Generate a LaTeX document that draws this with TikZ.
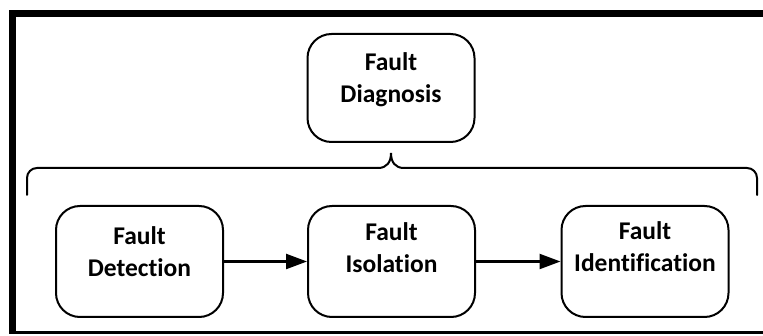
\documentclass[tikz,border=0pt]{standalone}
\usepackage{fontspec}
\setmainfont{Carlito}[Ligatures=NoCommon]
\usetikzlibrary{arrows.meta}
\tikzset{
  stage/.style={draw, line width=2pt, rounded corners=24pt, minimum width=167pt,
    minimum height=111pt, align=center, text depth=20pt,
    font=\bfseries\fontsize{25.5}{32}\selectfont},
  flow/.style={line width=2.4pt, -{Triangle[length=21pt,width=15pt]}},
  bracket/.style={line width=2pt, line cap=round}
}
\begin{document}
\begin{tikzpicture}[x=1pt,y=-1pt]
  \useasboundingbox (0,0) rectangle (763,336);
  % outer frame (cut off on the right)
  \fill (9,10) rectangle (763,17);
  \fill (9,10) rectangle (16,334);
  \fill (9,331) rectangle (763,334);
  % top box
  \node[stage, minimum height=108pt] (diag) at (391,88) {Fault\\Diagnosis};
  % the three steps
  \node[stage] (det) at (139.5,261.5) {Fault\\Detection};
  \node[stage, text depth=27pt] (iso) at (391.5,261.5) {Fault\\Isolation};
  \node[stage, text depth=29pt] (ident) at (645,261.5) {Fault\\Identification};
  \draw[flow] (det) -- (iso);
  \draw[flow] (iso) -- (ident);
  % brace
  \coordinate (tip) at (391,153);
  \draw[bracket, rounded corners=10pt] (27,195) -- (27,168) -- (378,168);
  \draw[bracket] (378,168) .. controls (387,168) and (391,162) .. (tip)
    .. controls (391,162) and (395,168) .. (404,168);
  \draw[bracket, rounded corners=10pt] (404,168) -- (757,168) -- (757,195);
\end{tikzpicture}
\end{document}
